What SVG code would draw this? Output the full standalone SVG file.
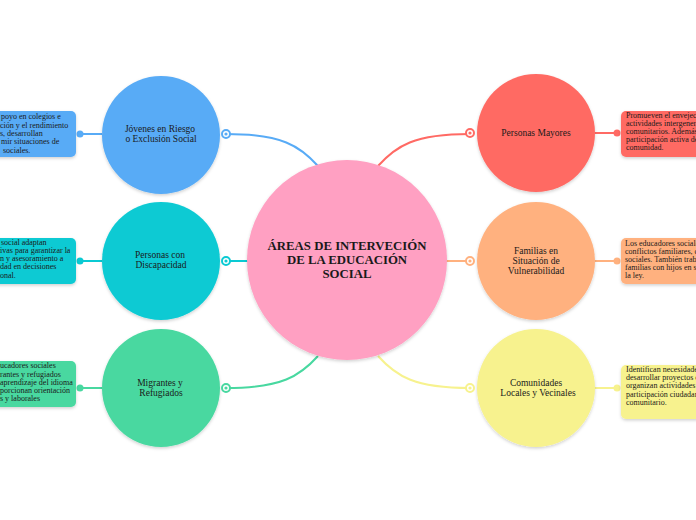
<svg xmlns="http://www.w3.org/2000/svg" width="696" height="520" viewBox="0 0 696 520">
<style>
.lbl{font-family:"Liberation Serif","DejaVu Serif",serif;font-size:9.5px;fill:#1a1a1a;text-anchor:middle}
.box{font-family:"Liberation Serif","DejaVu Serif",serif;font-size:8px;fill:#1a1a1a}
.ttl{font-family:"Liberation Serif","DejaVu Serif",serif;font-size:12.8px;font-weight:bold;fill:#1a1a1a;text-anchor:middle}
.c{fill:none;stroke-width:2}
</style>
<defs>
<filter id="sh" x="-20%" y="-20%" width="140%" height="140%">
<feDropShadow dx="0" dy="1.5" stdDeviation="1.5" flood-color="#000" flood-opacity="0.18"/>
</filter>
</defs>
<rect width="696" height="520" fill="#fff"/>
<g id="connectors">
<path class="c" stroke="#58ABF6" d="M226,134 C282,134 300,146 318,166"/>
<path class="c" stroke="#0ACAD3" d="M226,261 L250,261"/>
<path class="c" stroke="#48D8A0" d="M226,388 C282,388 300,376 318,356"/>
<path class="c" stroke="#FF6A64" d="M470,134 C414,134 396,146 378,166"/>
<path class="c" stroke="#FFB17F" d="M446,261 L470,261"/>
<path class="c" stroke="#F7F28E" d="M470,388 C414,388 396,376 378,356"/>
<path class="c" stroke="#58ABF6" d="M102,134 H80"/>
<path class="c" stroke="#0ACAD3" d="M102,261 H80"/>
<path class="c" stroke="#48D8A0" d="M102,388 H80"/>
<path class="c" stroke="#FF6A64" d="M595,133 H617"/>
<path class="c" stroke="#FFB17F" d="M595,261 H617"/>
<path class="c" stroke="#F7F28E" d="M595,388 H617"/>
<circle cx="80" cy="134" r="3.5" fill="#58ABF6"/>
<circle cx="80" cy="261" r="3.5" fill="#0ACAD3"/>
<circle cx="80" cy="388" r="3.5" fill="#48D8A0"/>
<circle cx="617" cy="133" r="3.5" fill="#FF6A64"/>
<circle cx="617" cy="261" r="3.5" fill="#FFB17F"/>
<circle cx="617" cy="388" r="3.5" fill="#F7F28E"/>
</g>
<g id="center">
<circle cx="347" cy="260" r="100" fill="#FFA0C2" filter="url(#sh)"/>
<text class="ttl" x="347" y="250">ÁREAS DE INTERVECIÓN</text>
<text class="ttl" x="347" y="264">DE LA EDUCACIÓN</text>
<text class="ttl" x="347" y="278">SOCIAL</text>
</g>
<g id="jovenes">
<circle cx="161" cy="135" r="59" fill="#58ABF6" filter="url(#sh)"/>
<text class="lbl" x="160" y="132">Jóvenes en Riesgo</text>
<text class="lbl" x="161" y="142">o Exclusión Social</text>
<circle cx="226" cy="134" r="4" fill="#fff" stroke="#58ABF6" stroke-width="2"/>
<circle cx="226" cy="134" r="1.6" fill="#58ABF6"/>
</g>
<g id="discapacidad">
<circle cx="161" cy="261" r="59" fill="#0ACAD3" filter="url(#sh)"/>
<text class="lbl" x="160" y="258">Personas con</text>
<text class="lbl" x="161" y="268">Discapacidad</text>
<circle cx="226" cy="261" r="4" fill="#fff" stroke="#0ACAD3" stroke-width="2"/>
<circle cx="226" cy="261" r="1.6" fill="#0ACAD3"/>
</g>
<g id="migrantes">
<circle cx="161" cy="388" r="59" fill="#48D8A0" filter="url(#sh)"/>
<text class="lbl" x="160" y="386">Migrantes y</text>
<text class="lbl" x="161" y="396">Refugiados</text>
<circle cx="226" cy="388" r="4" fill="#fff" stroke="#48D8A0" stroke-width="2"/>
<circle cx="226" cy="388" r="1.6" fill="#48D8A0"/>
</g>
<g id="mayores">
<circle cx="536" cy="133" r="59" fill="#FF6A64" filter="url(#sh)"/>
<text class="lbl" x="536" y="136">Personas Mayores</text>
<circle cx="470" cy="133" r="4" fill="#fff" stroke="#FF6A64" stroke-width="2"/>
<circle cx="470" cy="133" r="1.6" fill="#FF6A64"/>
</g>
<g id="familias">
<circle cx="536" cy="261" r="59" fill="#FFB17F" filter="url(#sh)"/>
<text class="lbl" x="536" y="254">Familias en</text>
<text class="lbl" x="536" y="264">Situación de</text>
<text class="lbl" x="536" y="274">Vulnerabilidad</text>
<circle cx="470" cy="261" r="4" fill="#fff" stroke="#FFB17F" stroke-width="2"/>
<circle cx="470" cy="261" r="1.6" fill="#FFB17F"/>
</g>
<g id="comunidades">
<circle cx="536" cy="388" r="59" fill="#F7F28E" filter="url(#sh)"/>
<text class="lbl" x="536" y="386">Comunidades</text>
<text class="lbl" x="538" y="396">Locales y Vecinales</text>
<circle cx="470" cy="388" r="4" fill="#fff" stroke="#F7F28E" stroke-width="2"/>
<circle cx="470" cy="388" r="1.6" fill="#F7F28E"/>
</g>
<g id="box-jovenes">
<rect x="-20" y="111" width="96" height="46" rx="5" fill="#58ABF6" filter="url(#sh)"/>
<text class="box" x="1" y="119">poyo en colegios e</text>
<text class="box" x="0" y="128">ción y el rendimiento</text>
<text class="box" x="0" y="136">s, desarrollan</text>
<text class="box" x="1" y="144">mir situaciones de</text>
<text class="box" x="3" y="153">sociales.</text>
</g>
<g id="box-discapacidad">
<rect x="-20" y="238" width="96" height="46" rx="5" fill="#0ACAD3" filter="url(#sh)"/>
<text class="box" x="1" y="245">social adaptan</text>
<text class="box" x="0" y="253">ivas para garantizar la</text>
<text class="box" x="0" y="261">n y asesoramiento a</text>
<text class="box" x="0" y="269">dad en decisiones</text>
<text class="box" x="0" y="278">onal.</text>
</g>
<g id="box-migrantes">
<rect x="-20" y="361" width="96" height="46" rx="5" fill="#48D8A0" filter="url(#sh)"/>
<text class="box" x="0" y="368">ucadores sociales</text>
<text class="box" x="0" y="377">rantes y refugiados</text>
<text class="box" x="0" y="385">aprendizaje del idioma</text>
<text class="box" x="0" y="393">porcionan orientación</text>
<text class="box" x="0" y="401">s y laborales</text>
</g>
<g id="box-mayores">
<rect x="621" y="111" width="100" height="46" rx="5" fill="#FF6A64" filter="url(#sh)"/>
<text class="box" x="626" y="118">Promueven el envejecimiento</text>
<text class="box" x="626" y="126">actividades intergeneracionales</text>
<text class="box" x="626" y="134">comunitarios. Además,</text>
<text class="box" x="626" y="142">participación activa de</text>
<text class="box" x="626" y="150">comunidad.</text>
</g>
<g id="box-familias">
<rect x="621" y="238" width="100" height="46" rx="5" fill="#FFB17F" filter="url(#sh)"/>
<text class="box" x="625" y="246">Los educadores sociales</text>
<text class="box" x="625" y="254">conflictos familiares, crisis</text>
<text class="box" x="625" y="262">sociales. También trabajan</text>
<text class="box" x="625" y="270">familias con hijos en situación</text>
<text class="box" x="625" y="278">la ley.</text>
</g>
<g id="box-comunidades">
<rect x="621" y="365" width="100" height="54" rx="5" fill="#F7F28E" filter="url(#sh)"/>
<text class="box" x="626" y="372">Identifican necesidades</text>
<text class="box" x="626" y="380">desarrollar proyectos de</text>
<text class="box" x="626" y="388">organizan actividades y</text>
<text class="box" x="626" y="397">participación ciudadana</text>
<text class="box" x="626" y="405">comunitario.</text>
</g>
</svg>
